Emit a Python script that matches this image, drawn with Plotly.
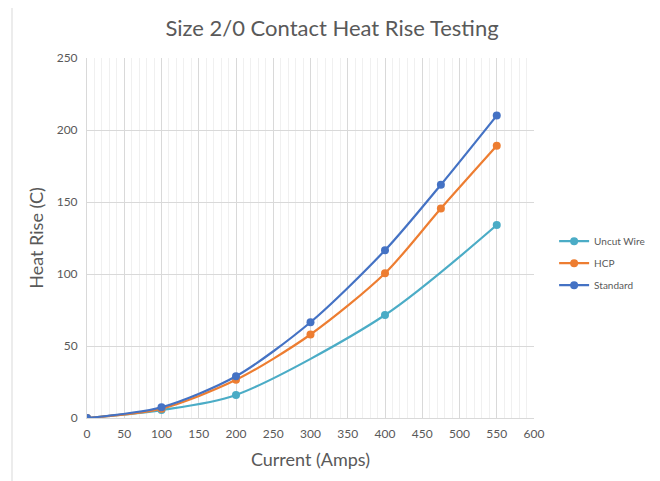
import plotly.graph_objects as go

current = [0, 100, 200, 300, 400, 475, 550]
standard = [0, 7.5, 29, 66.5, 116.5, 162, 210]
hcp = [0, 6.5, 26.5, 58, 100.5, 145.5, 189]
uncut_current = [0, 100, 200, 400, 550]
uncut = [0, 5.5, 16, 71.5, 134]

x_ticks = list(range(0, 601, 50))
y_ticks = list(range(0, 251, 50))

FONT = "Lato"
GRAY = "#595959"

fig = go.Figure()
series = [
    ("Uncut Wire", uncut_current, uncut, "#4BACC6"),
    ("HCP", current, hcp, "#ED7D31"),
    ("Standard", current, standard, "#4472C4"),
]
for name, xs, ys, col in series:
    fig.add_trace(go.Scatter(
        x=xs, y=ys, name=name, legendgroup=name, mode="lines+markers",
        line=dict(color=col, width=2.2, shape="spline", smoothing=0.8),
        marker=dict(color=col, size=8),
    ))

fig.update_layout(
    width=660, height=481,
    margin=dict(l=79, r=134, t=50, b=71),
    paper_bgcolor="white", plot_bgcolor="white",
    font=dict(family=FONT, color=GRAY),
    title=dict(text="Size 2/0 Contact Heat Rise Testing", x=(324 / 660), xanchor="center",
               y=1 - 20 / 481, yanchor="middle",
               font=dict(family=FONT, size=22, color=GRAY)),
    legend=dict(x=1.045, xanchor="left", y=0.43, yanchor="middle",
                font=dict(family=FONT, size=10, color=GRAY),
                bgcolor="rgba(0,0,0,0)", itemwidth=30, tracegroupgap=3),
    shapes=[dict(type="rect", xref="paper", yref="paper",
                 x0=(12 - 87) / 447, x1=(654 - 87) / 447,
                 y0=-0.3, y1=(418 - 2) / 360,
                 line=dict(color="#d9d9d9", width=1), layer="below")],
)
fig.update_xaxes(
    range=[0, 600], tickvals=x_ticks, ticktext=[str(v) for v in x_ticks],
    showgrid=True, gridcolor="#d9d9d9", gridwidth=1,
    minor=dict(dtick=10, showgrid=True, gridcolor="#f0f0f0", gridwidth=1),
    showline=True, linecolor="#d9d9d9", linewidth=1,
    zeroline=False, ticks="", ticklabelstandoff=5,
    tickfont=dict(family=FONT, size=12, color=GRAY),
    title=dict(text="Current (Amps)", font=dict(family=FONT, size=18, color=GRAY), standoff=12),
)
fig.update_yaxes(
    range=[0, 250], tickvals=y_ticks, ticktext=[str(v) for v in y_ticks],
    showgrid=True, gridcolor="#d9d9d9", gridwidth=1,
    showline=True, linecolor="#d9d9d9", linewidth=1,
    zeroline=False, ticks="", ticklabelstandoff=6,
    tickfont=dict(family=FONT, size=12, color=GRAY),
    title=dict(text="Heat Rise (C)", font=dict(family=FONT, size=18, color=GRAY), standoff=8),
)

fig.write_html("out.html")
